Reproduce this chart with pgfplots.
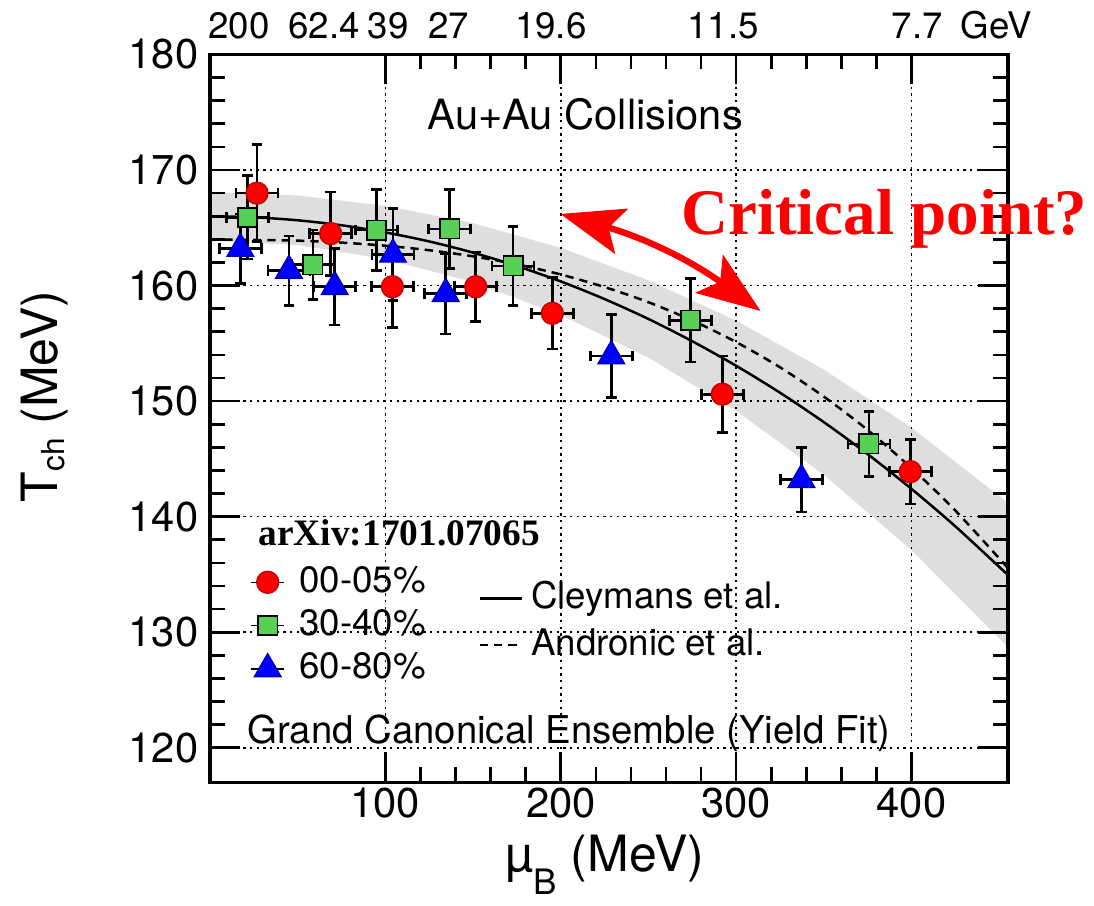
\documentclass[border=0pt]{standalone}
\usepackage{fontspec}
\setmainfont{TeX Gyre Heros}
\newfontfamily\serifbf{Liberation Serif}
\usepackage{pgfplots}
\pgfplotsset{compat=1.18}
\usetikzlibrary{arrows.meta}
\definecolor{mred}{RGB}{255,0,0}
\definecolor{mgreen}{RGB}{86,209,86}
\definecolor{mblue}{RGB}{0,0,255}

% data: mu_B, T_ch, errors
\pgfplotstableread{
x y ex ey
26.8 168.0 12 4.2
68.8 164.5 12 3.6
104.0 159.9 12 3.5
151.5 159.9 12 3.0
195.2 157.6 12 3.1
292.1 150.6 12 3.3
399.3 143.9 12 2.8
}\central
\pgfplotstableread{
x y ex ey
21.3 165.9 12 3.6
58.7 161.8 12 3.0
94.9 164.8 12 3.5
136.7 164.9 12 3.4
172.8 161.7 12 3.4
273.9 157.0 12 3.6
375.7 146.3 12 2.8
}\midcent
\pgfplotstableread{
x y ex ey
17.3 163.2 12 3.0
45.0 161.3 12 3.0
71.1 159.9 12 3.3
104.3 162.7 12 4.0
134.4 159.3 12 3.5
228.8 153.9 12 3.6
337.2 143.2 12 2.8
}\periph

\pgfplotsset{
  tchframe/.style={
    width=239.4pt, height=218.4pt, scale only axis,
    at={(0,0)}, anchor=south west,
    xmin=0, xmax=455, ymin=117, ymax=180,
    xtick={100,200,300,400}, ytick={120,130,...,180},
    minor x tick num=4, minor y tick num=4,
    tick align=inside,
    major tick length=9pt, minor tick length=4.5pt,
    axis line style={line width=1pt},
    every tick/.style={black, line width=0.8pt},
    /pgf/number format/assume math mode=true,
    tick label style={font=\fontsize{12.5}{14}\selectfont},
    xticklabel style={yshift=2pt},
    clip=false,
  },
  errs/.style={
    error bars/.cd, x dir=both, x explicit, y dir=both, y explicit,
    error bar style={black, line width=0.8pt},
    error mark options={rotate=90, black, mark size=1.6pt, line width=0.8pt},
  },
}

\begin{document}
\begin{tikzpicture}
% background axis: frame, grid, band, parametrisations
\begin{axis}[tchframe,
  xmajorgrids, ymajorgrids,
  grid style={black, line width=0.45pt, dash pattern=on 0.7pt off 1.3pt},
  xlabel={µ\raisebox{-7pt}{\fontsize{10.5}{10.5}\selectfont B} (MeV)},
  ylabel={T\raisebox{-2pt}{\fontsize{9.5}{9.5}\selectfont ch} (MeV)},
  label style={font=\fontsize{15}{17}\selectfont},
  xlabel style={at={(axis description cs:0.495,-0.122)}, anchor=base},
  ylabel style={at={(axis description cs:-0.207,0.53)}, anchor=center},
  legend style={draw=none, fill=none, inner sep=0pt, outer sep=0pt,
    at={(axis cs:153,134.8)}, anchor=north west,
    font=\fontsize{11}{13}\selectfont, row sep=1pt, column sep=1pt,
    nodes={inner sep=1.5pt, text height=8pt, text depth=2pt}},
  legend cell align=left,
  legend image code/.code={\draw[#1] (0pt,0pt) -- (12.6pt,0pt);},
]
\addplot[draw=none, fill=black, fill opacity=0.13, forget plot] coordinates {
(0,168.10) (50,167.80) (100,166.90) (150,165.40) (200,163.26) (250,160.46)
(300,156.96) (350,152.73) (400,147.70) (455,141.19)
(455,128.71) (400,137.10) (350,143.63) (300,149.16) (250,153.76) (200,157.46)
(150,160.30) (100,162.30) (50,163.50) (0,163.90)} -- cycle;
\addplot[black, line width=0.75pt, smooth] coordinates {
(0,166.00) (25,165.91) (50,165.65) (75,165.22) (100,164.60) (125,163.82)
(150,162.85) (175,161.69) (200,160.36) (225,158.83) (250,157.11) (275,155.18)
(300,153.06) (325,150.73) (350,148.18) (375,145.41) (400,142.40) (425,139.16)
(455,134.95)};
\addlegendentry{Cleymans et al.}
\addplot[black, line width=0.75pt, dash pattern=on 2.5pt off 1.8pt, smooth] coordinates {
(0,164.00) (25,163.95) (50,163.89) (75,163.72) (100,163.45) (125,163.06)
(150,162.53) (175,161.84) (200,160.96) (225,159.87) (250,158.56) (275,156.98)
(300,155.11) (325,152.93) (350,150.39) (375,147.50) (400,144.20) (425,140.53)
(455,135.55)};
\addlegendentry{Andronic et al.}
% beam energies along the top
\begin{scope}[every node/.style={font=\fontsize{11}{13}\selectfont, yshift=4.8pt}]
\node[anchor=base] at (axis cs:16.6,180) {200};
\node[anchor=base] at (axis cs:65.1,180) {62.4};
\node[anchor=base] at (axis cs:101.6,180) {39};
\node[anchor=base] at (axis cs:136.2,180) {27};
\node[anchor=base] at (axis cs:194.3,180) {19.6};
\node[anchor=base] at (axis cs:292.6,180) {11.5};
\node[anchor=base] at (axis cs:403.3,180) {7.7};
\node[anchor=base west] at (axis cs:421.4,180) {GeV};
\end{scope}
\end{axis}
% foreground axis: data points, legend, annotations
\begin{axis}[tchframe, hide axis,
  legend style={draw=none, fill=none, inner sep=0pt, outer sep=0pt,
    at={(axis cs:23.0,136.2)}, anchor=north west,
    font=\fontsize{11}{13}\selectfont, row sep=0pt, column sep=2.8pt,
    nodes={inner sep=1.5pt, text height=8pt, text depth=2pt}},
  legend cell align=left,
  legend image code/.code={\path (-5pt,0pt) -- (5pt,0pt); \draw[#1] plot coordinates {(0pt,0pt)};},
]
\addplot[only marks, mark=*, mark size=3.3pt,
  mark options={fill=mred, draw=mred!75!black, line width=0.4pt}, errs]
  table[x=x, y=y, x error=ex, y error=ey] {\central};
\addlegendentry{00-05\%}
\addplot[only marks, mark=square*, mark size=2.9pt,
  mark options={fill=mgreen, draw=black, line width=0.5pt}, errs]
  table[x=x, y=y, x error=ex, y error=ey] {\midcent};
\addlegendentry{30-40\%}
\addplot[only marks, mark=triangle*, mark size=4.6pt,
  mark options={fill=mblue, draw=mblue!70!black, line width=0.4pt}, errs]
  table[x=x, y=y, x error=ex, y error=ey] {\periph};
\addlegendentry{60-80\%}
\node[anchor=base, font=\fontsize{12.5}{14}\selectfont] at (axis cs:214,173.5) {Au+Au Collisions};
\node[anchor=base west, inner sep=0pt, font=\fontsize{11.5}{13}\selectfont] at (axis cs:21,120.4) {Grand Canonical Ensemble (Yield Fit)};
\node[anchor=base west, inner sep=0pt, font=\serifbf\bfseries\fontsize{11.2}{13}\selectfont] at (axis cs:27.4,137.5) {arXiv:1701.07065};
\node[anchor=base west, inner sep=0pt, text=mred, font=\serifbf\bfseries\fontsize{19.5}{22}\selectfont] at (axis cs:268.3,164.4) {Critical point?};
\draw[mred, line width=1.9pt, {Stealth[length=19pt, width=14pt, inset=4pt]}-{Stealth[length=19pt, width=14pt, inset=4pt]}]
  (axis cs:199.8,166.2) to[bend left=10] (axis cs:314.0,157.8);
\path (axis description cs:-0.2632,-0.1648) rectangle (axis description cs:1.1078,1.0728);
\end{axis}
\end{tikzpicture}
\end{document}
